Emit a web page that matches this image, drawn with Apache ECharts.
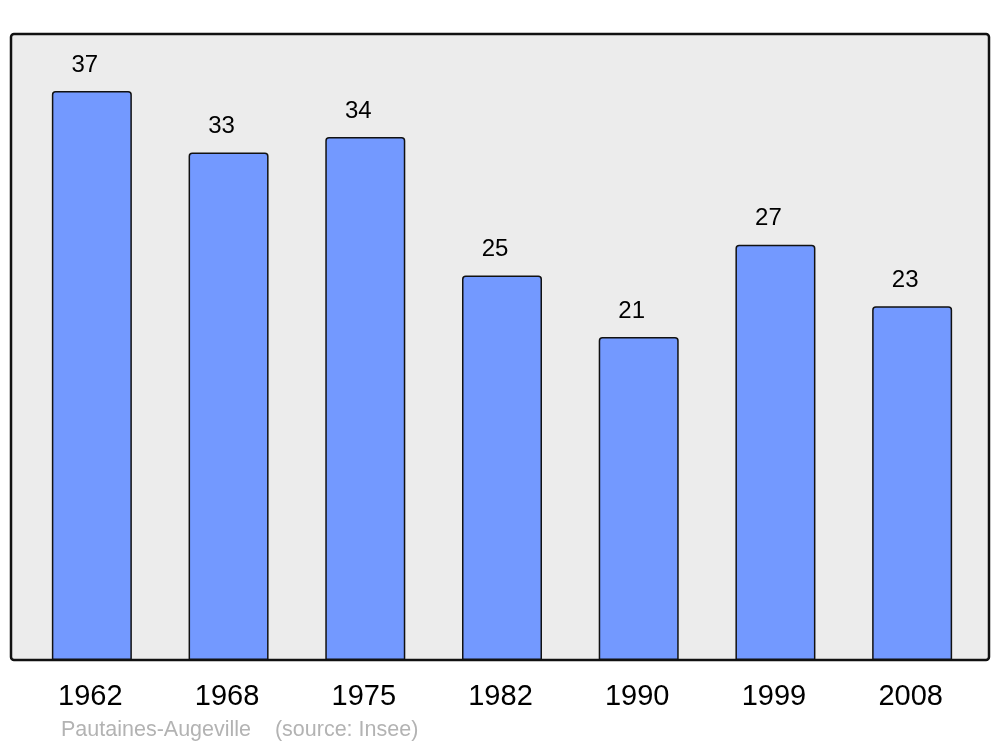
<!DOCTYPE html>
<html>
<head>
<meta charset="utf-8">
<script src="https://cdn.jsdelivr.net/npm/echarts@6/dist/echarts.min.js"></script>
<style>html,body{margin:0;padding:0;background:#fff}#c{width:1000px;height:747px}</style>
</head>
<body>
<div id="c"></div>
<script>
const years = ['1962','1968','1975','1982','1990','1999','2008'];
const population = [37, 33, 34, 25, 21, 27, 23];
const footerPlace = 'Pautaines-Augeville';
const footerSource = '(source: Insee)';

const chart = echarts.init(document.getElementById('c'), null, {renderer: 'canvas'});
chart.setOption({
  animation: false,
  backgroundColor: '#ffffff',
  graphic: [
    {type: 'rect', z: 0, shape: {x: 11, y: 34, width: 978, height: 626, r: 3},
     style: {fill: '#ececec', stroke: '#111111', lineWidth: 2.5}},
    {type: 'text', left: 61, top: 719, z: 10,
     style: {text: footerPlace + '    ' + footerSource, fill: '#b3b3b3', fontSize: 21.5, fontFamily: 'Liberation Sans, Arial, sans-serif'}}
  ],
  grid: {left: 23.5, right: 19.5, top: 34, bottom: 87, containLabel: false},
  xAxis: {
    type: 'category', data: years,
    axisLine: {show: false}, axisTick: {show: false},
    axisLabel: {color: '#000', fontSize: 29, margin: 22, padding: [0, 3, 0, 0], fontFamily: 'Liberation Sans, Arial, sans-serif'}
  },
  yAxis: {type: 'value', min: 0, max: 40.7, show: false, splitLine: {show: false}},
  series: [{
    type: 'bar', data: population, barWidth: 80, z: 2,
    itemStyle: {color: '#7399ff', borderColor: '#111111', borderWidth: 1.5, borderRadius: [3,3,0,0]},
    label: {show: true, position: 'top', distance: 14, offset: [-7, 0], color: '#000', fontSize: 24, fontFamily: 'Liberation Sans, Arial, sans-serif'}
  }]
});
</script>
</body>
</html>
